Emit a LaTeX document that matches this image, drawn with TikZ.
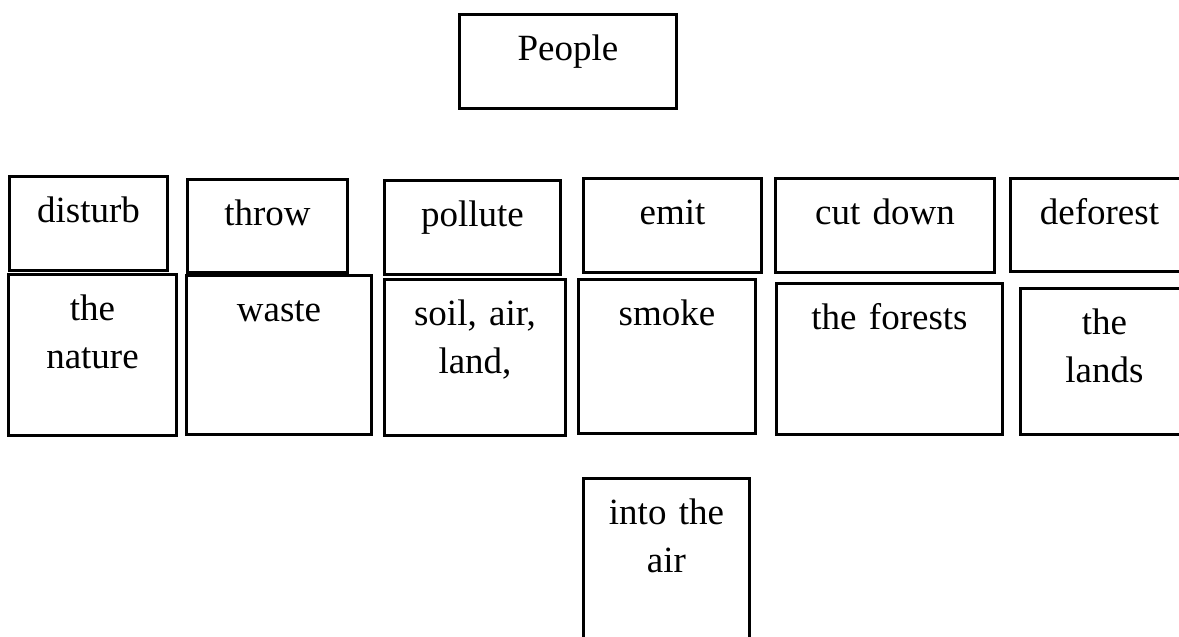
\documentclass[tikz,border=0pt]{standalone}
\usepackage{fontspec}
\setmainfont{Liberation Serif}
\usepackage{tikz}
\usetikzlibrary{positioning}

\begin{document}
\begin{tikzpicture}[x=0.5pt,y=-0.5pt,
  wbox/.style={draw,line width=1.5pt,anchor=north west,inner sep=0pt,align=center,
    text height=23pt,font=\fontsize{18.5}{24}\selectfont}]
  \useasboundingbox (0,0) rectangle (1179,637);
  \node[wbox,text width=108.5pt,text depth=24pt] (people) at (458,13) {People};
  % verbs
  \node[wbox,text width=79pt,text depth=24pt] (disturb) at (8,175) {disturb};
  \node[wbox,text width=80pt,text depth=23.5pt] (throw) at (186,178) {throw};
  \node[wbox,text width=88pt,text depth=24pt] (pollute) at (383,179) {pollute};
  \node[wbox,text width=89pt,text depth=24pt] (emit) at (582,177) {emit};
  \node[wbox,text width=109.5pt,text depth=24pt] (cutdown) at (774,177) {cut down};
  \node[wbox,text width=89pt,text depth=23.5pt] (deforest) at (1009,177) {deforest};
  % objects
  \node[wbox,text width=84pt,text depth=57.5pt] (nature) at (7,273) {the\\nature};
  \node[wbox,text width=92.5pt,text depth=56.5pt] (waste) at (185,274) {waste};
  \node[wbox,text width=90.5pt,text depth=55pt] (soil) at (383,278) {soil, air,\\land,};
  \node[wbox,text width=88.5pt,text depth=54pt] (smoke) at (577,278) {smoke};
  \node[wbox,text width=113pt,text depth=52.5pt] (forests) at (775,282) {the forests};
  \node[wbox,text width=84pt,text depth=50pt] (lands) at (1019,287) {the\\lands};
  \node[wbox,text width=83pt,text depth=66pt] (intoair) at (582,477) {into the\\air};
\end{tikzpicture}
\end{document}
